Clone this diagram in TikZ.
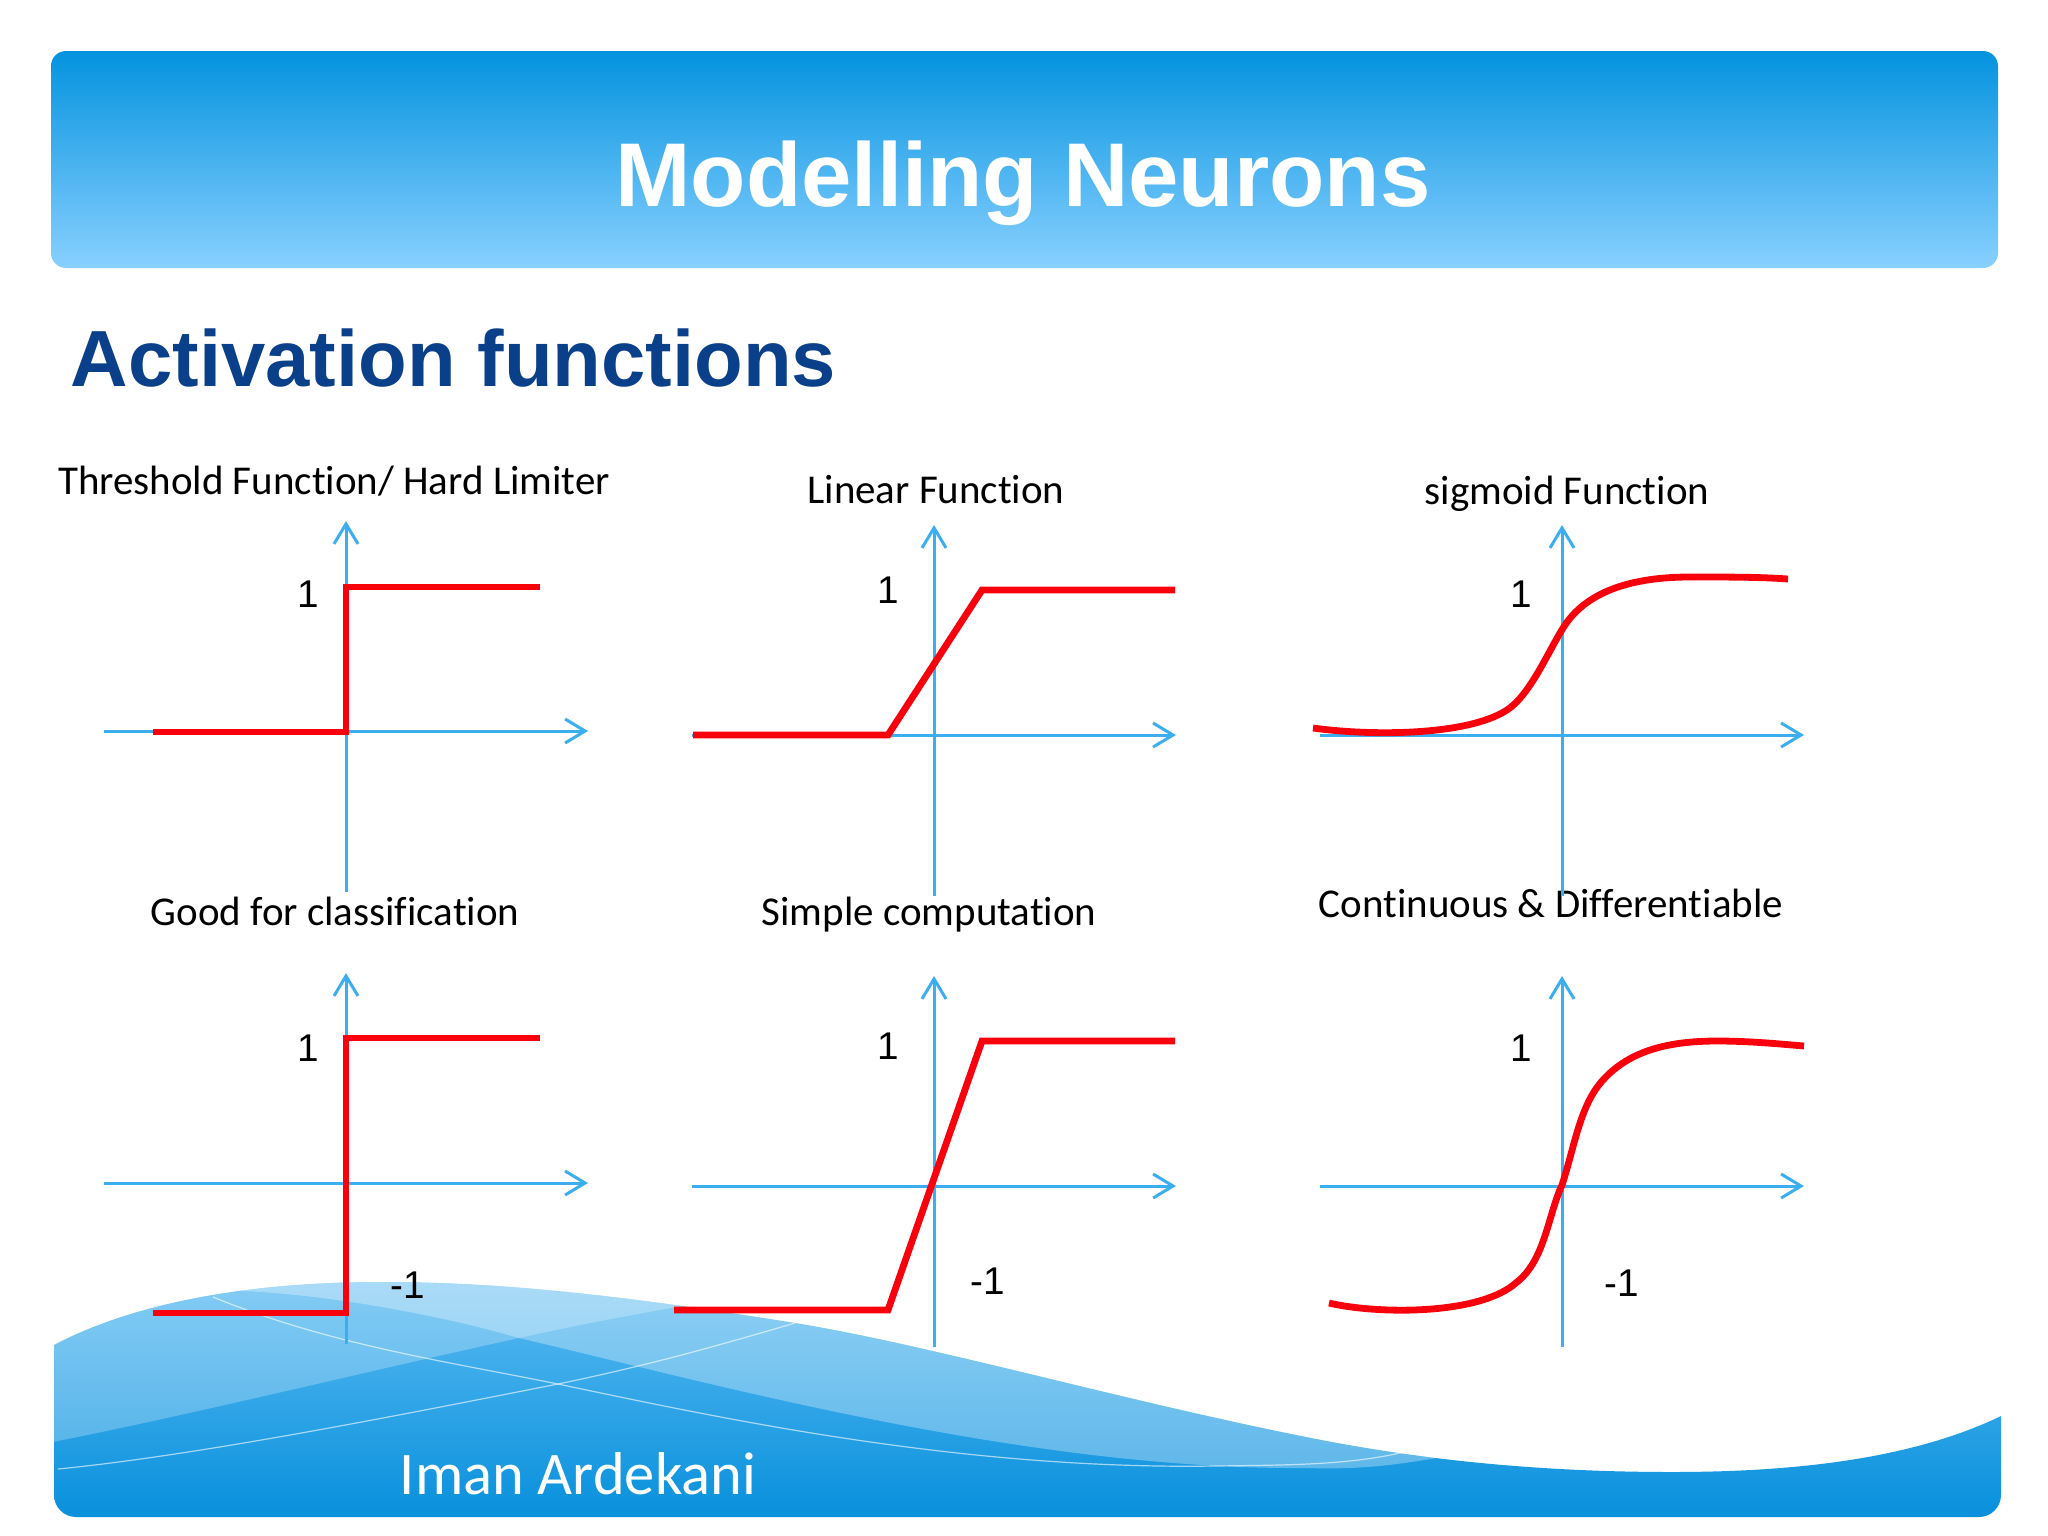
\documentclass[tikz,border=0pt]{standalone}
\usepackage{fontspec}
\setmainfont{Liberation Sans}
\newfontfamily\calibrifont[Ligatures=CommonOff]{Carlito}
\usetikzlibrary{arrows.meta}
\definecolor{axisblue}{HTML}{3BAEF0}
\definecolor{headTop}{HTML}{0493DF}
\definecolor{headBottom}{HTML}{88D0FF}
\definecolor{subtitleBlue}{HTML}{0A3F8A}
\definecolor{curveRed}{HTML}{F8000C}
\definecolor{waveTop}{HTML}{5BBBF2}
\definecolor{waveMid}{HTML}{27A0E8}
\definecolor{waveBottom}{HTML}{0890DC}
\tikzset{
	axisline/.style={line width=0.03cm, color=axisblue, -{Straight Barb[length=0.2cm, width=0.24cm]}},
	redcurve/.style={line width=0.068cm, color=curveRed},
	thinwave/.style={line width=0.012cm, color=white, opacity=0.6},
	caption/.style={font=\calibrifont\fontsize{11.65}{14}\selectfont, anchor=base, inner sep=0pt},
	tick/.style={font=\fontsize{11}{13}\selectfont, inner sep=0pt},
}
\def\panelaxes(#1,#2){
	\draw[axisline] (#1-242, #2) -- (#1+242, #2);
	\draw[axisline] (#1, #2+161) -- (#1, #2-210);
}
\def\wavepath{(54, 1345) .. controls (130, 1305) and (240, 1282) .. (382, 1282) .. controls (500, 1282) and (620, 1295) .. (795, 1323) .. controls (930, 1345) and (1120, 1400) .. (1306, 1437) .. controls (1420, 1460) and (1540, 1472) .. (1672, 1472) .. controls (1790, 1472) and (1910, 1460) .. (2001, 1416) {[rounded corners=0.22cm] -- (2001, 1517) -- (54, 1517)} -- cycle}

\begin{document}
\begin{tikzpicture}[x=0.01cm, y=-0.01cm]
		%%%%% START %%%%%
		\useasboundingbox (0, 0) rectangle (2048, 1536);
		
		\shade[top color=headTop, bottom color=headBottom, rounded corners=0.15cm] (51, 51) rectangle (1998, 268);
		\node[font=\bfseries\fontsize{25.75}{30}\selectfont, color=white, anchor=base, inner sep=0pt] (title) at (1023, 206) {Modelling Neurons};
		\node[font=\bfseries\fontsize{22.65}{26}\selectfont, color=subtitleBlue, anchor=base west, inner sep=0pt] (subtitle) at (70, 386) {Activation functions};
		
		%%%%% wave %%%%%
		\shade[top color=waveTop, middle color=waveMid, bottom color=waveBottom] \wavepath;
		\begin{scope}
			\clip \wavepath;
			\fill[white, opacity=0.25] (0, 1452) .. controls (150, 1425) and (350, 1375) .. (519, 1338) .. controls (600, 1320) and (680, 1305) .. (900, 1270) -- (900, 1200) -- (0, 1200) -- cycle;
			\fill[white, opacity=0.31] (244, 1291) .. controls (330, 1295) and (440, 1315) .. (519, 1338) .. controls (700, 1380) and (1020, 1470) .. (1306, 1468) .. controls (1370, 1470) and (1420, 1465) .. (1567, 1430) -- (1567, 1200) -- (180, 1200) -- (180, 1270) -- cycle;
		\end{scope}
		\draw[thinwave] (213, 1297) .. controls (330, 1345) and (450, 1362) .. (558, 1384) .. controls (720, 1418) and (960, 1470) .. (1215, 1466) .. controls (1290, 1465) and (1350, 1465) .. (1404, 1452);
		\draw[thinwave] (58, 1469) .. controls (200, 1455) and (400, 1415) .. (558, 1384) .. controls (650, 1365) and (720, 1345) .. (795, 1323);
		\node[font=\calibrifont\fontsize{17.2}{20}\selectfont, color=white, anchor=base, inner sep=0pt] (author) at (578, 1494) {Iman Ardekani};
		
		%%%%% captions %%%%%
		\node[caption] (threshold) at (334, 494) {Threshold Function/ Hard Limiter};
		\node[caption] (linear) at (936, 503) {Linear Function};
		\node[caption] (sigmoid) at (1567, 504) {sigmoid Function};
		\node[caption] (classify) at (335, 925) {Good for classification};
		\node[caption] (simple) at (929, 925) {Simple computation};
		\node[caption] (differ) at (1551, 917) {Continuous \& Differentiable};
		
		%%%%% axes %%%%%
		\panelaxes(346,731)
		\panelaxes(934,735)
		\panelaxes(1562,735)
		\panelaxes(346,1183)
		\panelaxes(934,1186)
		\panelaxes(1562,1186)
		
		%%%%% curves %%%%%
		\draw[redcurve] (153, 732) -- (346, 732) -- (346, 587) -- (540, 587);
		\draw[redcurve] (693, 735) -- (888, 735) -- (982, 590) -- (1175, 590);
		\draw[redcurve] (1313, 728) .. controls (1370, 736) and (1467, 736) .. (1507, 710) .. controls (1530, 695) and (1548, 652) .. (1563, 628) .. controls (1578, 604) and (1610, 577) .. (1690, 577) .. controls (1730, 577) and (1760, 577) .. (1788, 579);
		\draw[redcurve] (153, 1313) -- (346, 1313) -- (346, 1038) -- (540, 1038);
		\draw[redcurve] (674, 1310) -- (888, 1310) -- (982, 1041) -- (1175, 1041);
		\draw[redcurve] (1329, 1303) .. controls (1375, 1314) and (1480, 1316) .. (1517, 1282) .. controls (1545, 1260) and (1548, 1215) .. (1562, 1185) .. controls (1575, 1145) and (1580, 1105) .. (1603, 1080) .. controls (1630, 1050) and (1670, 1041) .. (1717, 1041) .. controls (1750, 1041) and (1780, 1044) .. (1804, 1046);
		
		%%%%% ticks %%%%%
		\node[tick] (one1) at (308, 594) {1};
		\node[tick] (one2) at (888, 590) {1};
		\node[tick] (one3) at (1521, 594) {1};
		\node[tick] (one4) at (308, 1048) {1};
		\node[tick] (one5) at (888, 1046) {1};
		\node[tick] (one6) at (1521, 1048) {1};
		\node[tick] (minus4) at (408, 1285) {-1};
		\node[tick] (minus5) at (988, 1281) {-1};
		\node[tick] (minus6) at (1622, 1283) {-1};
		
		%%%%% END %%%%%
	\end{tikzpicture}
\end{document}
